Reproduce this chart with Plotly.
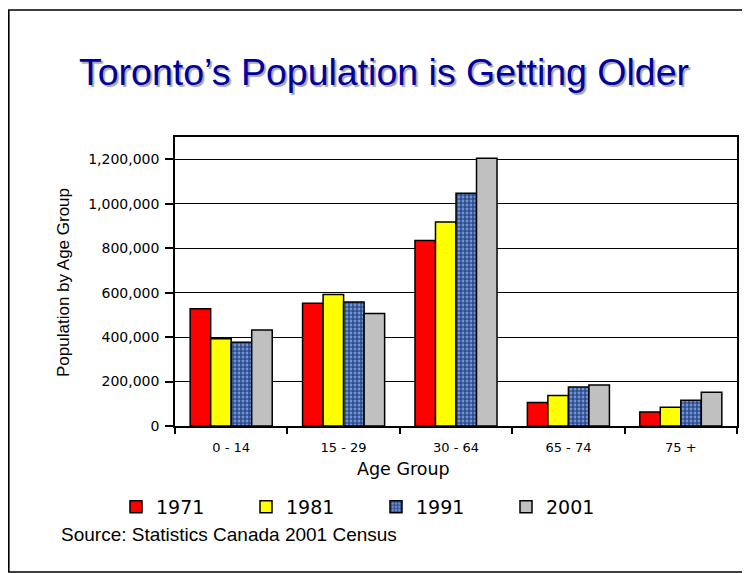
import plotly.graph_objects as go

age_groups = ["0 - 14", "15 - 29", "30 - 64", "65 - 74", "75 +"]
years = ["1971", "1981", "1991", "2001"]
pop_1971 = [527000, 552000, 834000, 106000, 63000]
pop_1981 = [393000, 591000, 918000, 137000, 84000]
pop_1991 = [377000, 558000, 1047000, 175000, 116000]
pop_2001 = [432000, 506000, 1204000, 184000, 152000]
y_ticks = [0, 200000, 400000, 600000, 800000, 1000000, 1200000]

series = [pop_1971, pop_1981, pop_1991, pop_2001]
colors = ["#FF0000", "#FFFF00", "#6B8DD0", "#C0C0C0"]

W, H = 750, 573
L, R, T, B = 167, 21, 129, 155
pw, ph = W - L - R, H - T - B

def px(x):
    return (x - L) / pw

def py(y):
    return (H - B - y) / ph

fig = go.Figure()
for name, vals, col in zip(years, series, colors):
    marker = dict(color=col, line=dict(color="#000000", width=1.5))
    if name == "1991":
        marker["pattern"] = dict(shape="+", fgcolor="#1A3A7A", bgcolor="#7394D4",
                                 size=4, solidity=0.5, fillmode="replace")
    fig.add_trace(go.Bar(name=name, x=age_groups, y=vals, marker=marker))

fig.update_layout(
    width=W, height=H,
    margin=dict(l=L, r=R, t=T, b=B, pad=0),
    paper_bgcolor="white", plot_bgcolor="white",
    barmode="group", bargap=0.27, bargroupgap=0,
    font=dict(family="DejaVu Sans", color="#000000"),
    showlegend=True,
    legend=dict(orientation="h", x=px(108), xanchor="left", y=py(499), yanchor="middle",
                font=dict(family="DejaVu Sans", size=19), entrywidth=85,
                entrywidthmode="pixels", bgcolor="rgba(0,0,0,0)", traceorder="normal"),
)
fig.update_xaxes(
    type="category", showline=True, linecolor="#000000", linewidth=1.5, mirror=True,
    ticks="outside", tickson="boundaries", ticklen=6, tickcolor="#000000", tickwidth=1.5,
    tickfont=dict(family="DejaVu Sans", size=13), ticklabelstandoff=9, showgrid=False,
)
fig.update_yaxes(
    range=[0, 1300000], tickvals=y_ticks, tickformat=",", showline=True, linecolor="#000000",
    linewidth=1.5, mirror=True, ticks="outside", ticklen=8, tickcolor="#000000", tickwidth=1.5,
    tickfont=dict(family="DejaVu Sans", size=14), ticklabelstandoff=3,
    showgrid=True, gridcolor="#000000", gridwidth=1.2, zeroline=False,
)

# outer frame
fig.add_shape(type="rect", xref="paper", yref="paper", x0=px(0.8), x1=px(780), y0=py(564), y1=py(2),
              line=dict(color="#000000", width=1.6), fillcolor="rgba(0,0,0,0)", layer="below")

fig.add_annotation(text="Toronto’s Population is Getting Older", xref="paper", yref="paper",
                   x=px(376), y=py(64), xanchor="center", yanchor="middle", showarrow=False,
                   font=dict(family="Liberation Sans, Arial", size=37.5, color="#00009C",
                             shadow="2px 2px 1px #A8A8A8"))
fig.add_annotation(text="Population by Age Group", xref="paper", yref="paper",
                   x=px(55), y=py(275), xanchor="center", yanchor="middle", textangle=-90,
                   showarrow=False, font=dict(family="Liberation Sans, Arial", size=17))
fig.add_annotation(text="Age Group", xref="paper", yref="paper",
                   x=px(395), y=py(461), xanchor="center", yanchor="middle",
                   showarrow=False, font=dict(family="DejaVu Sans", size=17.5))
fig.add_annotation(text="Source: Statistics Canada 2001 Census", xref="paper", yref="paper",
                   x=px(52), y=py(526), xanchor="left", yanchor="middle", borderpad=0,
                   showarrow=False, font=dict(family="Liberation Sans, Arial", size=19))

fig.write_html("out.html")
